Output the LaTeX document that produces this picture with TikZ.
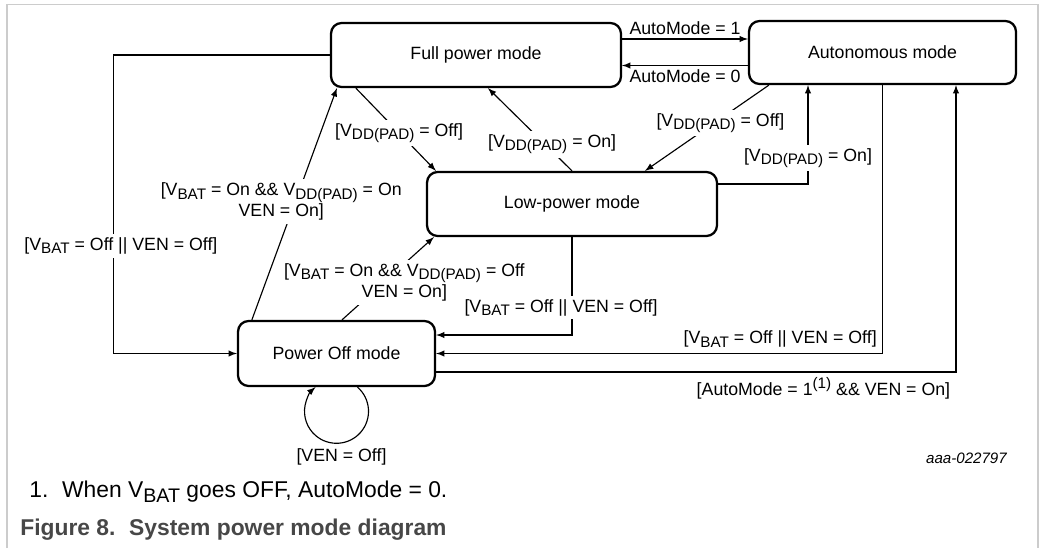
\documentclass[tikz,border=0pt]{standalone}
\usepackage{fontspec}
\setmainfont{Liberation Sans}
\usetikzlibrary{arrows,positioning}
\usetikzlibrary{calc}

\newcommand{\lowsub}[1]{\raisebox{-0.35ex}{\scalebox{0.86}{#1}}}
\newcommand{\highsup}[1]{\raisebox{0.7ex}{\scalebox{0.86}{#1}}}
\newcommand{\vdd}{V\lowsub{DD(PAD)}}
\newcommand{\vbat}{V\lowsub{BAT}}

\begin{document}
\begin{tikzpicture}[x=0.02cm, y=-0.02cm, font=\fontsize{10.1}{12}\selectfont]
          \tikzstyle{arrow} = [draw, -latex, line width=0.65pt]
          \tikzstyle{mode} = [rectangle, draw, rounded corners=6pt, line width=1.3pt, text centered, inner sep=0pt]
          \tikzstyle{cond} = [fill=white, inner sep=2pt, align=center]

          \useasboundingbox (0,0) rectangle (1064,548);
          \draw[gray!40, line width=1pt] (7,548) -- (7,4.5) -- (1038,4.5) -- (1038,548);

          \node[mode, minimum width=5.8cm, minimum height=1.28cm] (full) at (476,55) {Full power mode};
          \node[mode, minimum width=5.34cm, minimum height=1.26cm] (auto) at (882.5,52.5) {Autonomous mode};
          \node[mode, minimum width=5.8cm, minimum height=1.28cm] (low) at (572,204) {Low-power mode};
          \node[mode, minimum width=3.94cm, minimum height=1.3cm] (off) at (336.5,353.5) {Power Off mode};

          \path[arrow] ([yshift=0.32cm]full.east) -- node[above, inner sep=2pt] {AutoMode = 1} ([yshift=0.32cm]full.east -| auto.west);
          \path[arrow] ([yshift=-0.26cm]auto.west) -- node[below, inner sep=2pt] {AutoMode = 0} ([yshift=-0.26cm]auto.west -| full.east);
          \path[arrow] (full.west) -| node[cond, pos=.82, xshift=0.14cm] {[\vbat{} = Off || VEN = Off]} ([xshift=-2.46cm]off.west) -- (off.west);
          \path[arrow] ([xshift=0.52cm]full.south west) -- node[cond, pos=.54] {[\vdd{} = Off]} ([xshift=0.2cm]low.north west);
          \path[arrow] (low.north) -- node[cond, pos=.32, xshift=0.14cm] {[\vdd{} = On]} ([xshift=0.24cm]full.south);
          \path[arrow] ([xshift=0.42cm]auto.south west) -- node[cond, pos=.44, xshift=0.12cm] {[\vdd{} = Off]} ([xshift=1.46cm]low.north);
          \path[arrow] ([yshift=0.4cm]low.east) -| node[cond, pos=.63] {[\vdd{} = On]} ([xshift=-1.49cm]auto.south);
          \path[arrow] ([xshift=0.3cm]off.north west) -- node[cond, pos=.51, xshift=-0.28cm] {[\vbat{} = On \&\& \vdd{} = On\\VEN = On]} ([xshift=0.14cm]full.south west);
          \path[arrow] ([xshift=0.11cm]off.north) -- node[cond, pos=.45, xshift=0.42cm] {[\vbat{} = On \&\& \vdd{} = Off\\VEN = On]} ([xshift=0.16cm]low.south west);
          \path[arrow] (low.south) |- node[cond, pos=.36, xshift=-0.22cm] {[\vbat{} = Off || VEN = Off]} ([yshift=0.37cm]off.east);
          \path[arrow] (auto.south) |- node[pos=.5, anchor=south east, inner sep=3pt] {[\vbat{} = Off || VEN = Off]} (off.east);
          \path[arrow] ([yshift=-0.37cm]off.east) -| node[pos=.5, anchor=north east, inner sep=3pt] {[AutoMode = 1\highsup{(1)} \&\& VEN = On]} ([xshift=1.47cm]auto.south);

          % self loop below the power off state
          \path[arrow] ([xshift=0.42cm]off.south) arc[start angle=-49, end angle=229, radius=32];
          \node (venoff) at (341.5,457) {[VEN = Off]};

          \node[anchor=east, font=\fontsize{8.6}{10}\selectfont\itshape] (figid) at (1013,458) {aaa-022797};
          \node[anchor=west, inner sep=0pt, font=\fontsize{13}{15}\selectfont] (note) at (29,492) {1.\hspace{0.6em}When \vbat{} goes OFF, AutoMode = 0.};
          \node[anchor=west, inner sep=0pt, font=\fontsize{13}{15}\selectfont\bfseries, text=black!72] (caption) at (20,530) {Figure 8.\hspace{0.6em}System power mode diagram};
        \end{tikzpicture}
\end{document}
